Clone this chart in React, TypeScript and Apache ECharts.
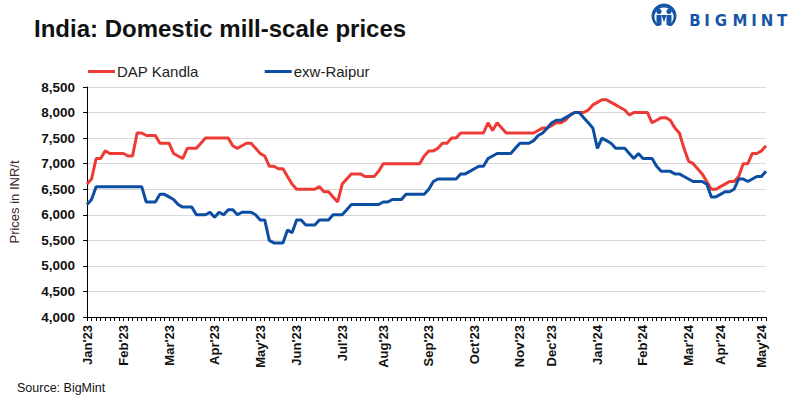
import React, { useEffect, useRef } from "react";
import * as echarts from "echarts";

const FONT = "'Liberation Sans', Arial, Helvetica, sans-serif";

const seriesNames = ["DAP Kandla", "exw-Raipur"];
const seriesColors = ["#EE3A35", "#0B4EA2"];

const monthLabels = ["Jan'23", "Feb'23", "Mar'23", "Apr'23", "May'23", "Jun'23", "Jul'23", "Aug'23", "Sep'23", "Oct'23", "Nov'23", "Dec'23", "Jan'24", "Feb'24", "Mar'24", "Apr'24", "May'24"];
const monthIdx = [0, 8, 18, 28, 38, 46, 56, 65, 75, 85, 95, 102, 112, 122, 132, 139, 148];

const yTicks = [4000, 4500, 5000, 5500, 6000, 6500, 7000, 7500, 8000, 8500];

const dapKandla = [
  6600, 6700, 7100, 7100, 7250, 7200, 7200, 7200, 7200, 7150,
  7150, 7600, 7600, 7550, 7550, 7550, 7400, 7400, 7400, 7200,
  7150, 7100, 7300, 7300, 7300, 7400, 7500, 7500, 7500, 7500,
  7500, 7500, 7350, 7300, 7350, 7400, 7400, 7300, 7200, 7150,
  6950, 6950, 6900, 6900, 6750, 6600, 6500, 6500, 6500, 6500,
  6500, 6550, 6450, 6450, 6350, 6250, 6600, 6700, 6800, 6800,
  6800, 6750, 6750, 6750, 6850, 7000, 7000, 7000, 7000, 7000,
  7000, 7000, 7000, 7000, 7150, 7250, 7250, 7300, 7400, 7400,
  7500, 7500, 7600, 7600, 7600, 7600, 7600, 7600, 7800, 7650,
  7800, 7700, 7600, 7600, 7600, 7600, 7600, 7600, 7600, 7650,
  7700, 7700, 7750, 7800, 7800, 7850, 7950, 8000, 8000, 8000,
  8050, 8150, 8200, 8250, 8250, 8200, 8150, 8100, 8050, 7950,
  8000, 8000, 8000, 8000, 7800, 7850, 7900, 7900, 7850, 7700,
  7600, 7300, 7050, 7000, 6900, 6800, 6650, 6500, 6500, 6550,
  6600, 6650, 6650, 6750, 7000, 7000, 7200, 7200, 7250, 7350,
];

const exwRaipur = [
  6200, 6300, 6550, 6550, 6550, 6550, 6550, 6550, 6550, 6550,
  6550, 6550, 6550, 6250, 6250, 6250, 6400, 6400, 6350, 6300,
  6200, 6150, 6150, 6150, 6000, 6000, 6000, 6050, 5950, 6050,
  6000, 6100, 6100, 6000, 6050, 6050, 6050, 6000, 5900, 5900,
  5500, 5450, 5450, 5450, 5700, 5650, 5900, 5900, 5800, 5800,
  5800, 5900, 5900, 5900, 6000, 6000, 6000, 6100, 6200, 6200,
  6200, 6200, 6200, 6200, 6200, 6250, 6250, 6300, 6300, 6300,
  6400, 6400, 6400, 6400, 6400, 6500, 6650, 6700, 6700, 6700,
  6700, 6700, 6800, 6800, 6850, 6900, 6950, 6950, 7100, 7150,
  7200, 7200, 7200, 7200, 7300, 7400, 7400, 7400, 7450, 7550,
  7600, 7700, 7800, 7850, 7850, 7900, 7950, 8000, 8000, 7900,
  7800, 7700, 7300, 7500, 7450, 7400, 7300, 7300, 7300, 7200,
  7100, 7200, 7100, 7100, 7100, 6950, 6850, 6850, 6850, 6800,
  6800, 6750, 6700, 6650, 6650, 6650, 6600, 6350, 6350, 6400,
  6450, 6450, 6500, 6700, 6700, 6650, 6700, 6750, 6750, 6850,
];

const logoLetters = ["B", "I", "G", "M", "I", "N", "T"];
const logoLetterX = [695, 707, 721, 740, 754, 767, 782];

export default function App() {
  const ref = useRef<HTMLDivElement>(null);

  useEffect(() => {
    if (!ref.current) return;
    const chart = echarts.init(ref.current, undefined, { renderer: "svg" });

    const categories = dapKandla.map((_, i) => String(i));
    const labelByIndex: Record<number, string> = {};
    monthIdx.forEach((idx, k) => {
      labelByIndex[idx] = monthLabels[k];
    });

    const blue = "#1656A8";
    const logoGraphics: any[] = [
      { type: "circle", shape: { cx: 664, cy: 16, r: 12.5 }, style: { fill: blue } },
      { type: "circle", shape: { cx: 664, cy: 17, r: 9.5 }, style: { fill: "#fff" } },
      { type: "circle", shape: { cx: 659, cy: 11.5, r: 2.6 }, style: { fill: blue } },
      { type: "circle", shape: { cx: 669, cy: 11.5, r: 2.6 }, style: { fill: blue } },
      { type: "rect", shape: { x: 656.5, y: 15, width: 5, height: 10 }, style: { fill: blue } },
      { type: "rect", shape: { x: 666.5, y: 15, width: 5, height: 10 }, style: { fill: blue } },
      { type: "polygon", shape: { points: [[661.5, 15], [664, 22], [666.5, 15]] }, style: { fill: blue } },
      { type: "rect", shape: { x: 651, y: 26, width: 26, height: 4 }, style: { fill: "#fff" } },
    ];
    logoLetters.forEach((ch, k) => {
      logoGraphics.push({
        type: "text",
        x: logoLetterX[k],
        y: 20.5,
        style: {
          text: ch,
          fill: blue,
          font: `bold 15px 'DejaVu Sans', ${FONT}`,
          align: "center",
          verticalAlign: "middle",
        },
      });
    });

    chart.setOption({
      animation: false,
      textStyle: { fontFamily: FONT },
      grid: { left: 83, right: 39, top: 87, bottom: 82, containLabel: false },
      legend: {
        left: 83,
        top: 59,
        icon: "rect",
        itemWidth: 27,
        itemHeight: 3,
        itemGap: 66,
        textStyle: { fontSize: 15, color: "#222", fontFamily: FONT, padding: [0, 0, 0, -3] },
        data: seriesNames,
      },
      graphic: [
        {
          type: "text",
          left: 34,
          top: 16,
          style: {
            text: "India: Domestic mill-scale prices",
            fill: "#111",
            font: `bold 24px ${FONT}`,
          },
        },
        {
          type: "text",
          left: 17,
          top: 381,
          style: {
            text: "Source: BigMint",
            fill: "#111",
            font: `12.5px ${FONT}`,
          },
        },
        ...logoGraphics,
      ],
      xAxis: {
        type: "category",
        data: categories,
        boundaryGap: false,
        axisLine: { show: true, lineStyle: { color: "#000", width: 1 } },
        axisTick: { show: true, interval: 0, length: 4, lineStyle: { color: "#000", width: 1 } },
        axisLabel: {
          interval: (index: number) => labelByIndex[index] !== undefined,
          formatter: (_v: string, index: number) => labelByIndex[index] ?? "",
          rotate: 90,
          fontSize: 13,
          fontWeight: "bold",
          color: "#111",
          margin: 8,
          fontFamily: FONT,
        },
        splitLine: { show: false },
      },
      yAxis: {
        type: "value",
        min: yTicks[0],
        max: yTicks[yTicks.length - 1],
        interval: 500,
        name: "Prices in INR/t",
        nameLocation: "middle",
        nameGap: 66,
        nameRotate: 90,
        nameTextStyle: { fontSize: 13, color: "#3a2b2b", fontFamily: FONT },
        axisLine: { show: true, lineStyle: { color: "#000", width: 1 } },
        axisTick: { show: true, length: 4, lineStyle: { color: "#000", width: 1 } },
        axisLabel: {
          formatter: (v: number) => v.toLocaleString("en-US"),
          fontSize: 13.5,
          fontWeight: "bold",
          color: "#111",
          margin: 12,
          fontFamily: FONT,
        },
        splitLine: { show: true, lineStyle: { color: "#d9d9d9", width: 1 } },
      },
      series: [
        {
          name: seriesNames[0],
          type: "line",
          data: dapKandla,
          showSymbol: false,
          symbol: "none",
          color: seriesColors[0],
          lineStyle: { width: 3, color: seriesColors[0] },
          z: 2,
        },
        {
          name: seriesNames[1],
          type: "line",
          data: exwRaipur,
          showSymbol: false,
          symbol: "none",
          color: seriesColors[1],
          lineStyle: { width: 3, color: seriesColors[1] },
          z: 3,
        },
      ],
    });

    return () => chart.dispose();
  }, []);

  return (
    <div
      ref={ref}
      style={{ position: "fixed", left: 0, top: 0, width: 805, height: 399, background: "#fff" }}
    />
  );
}
